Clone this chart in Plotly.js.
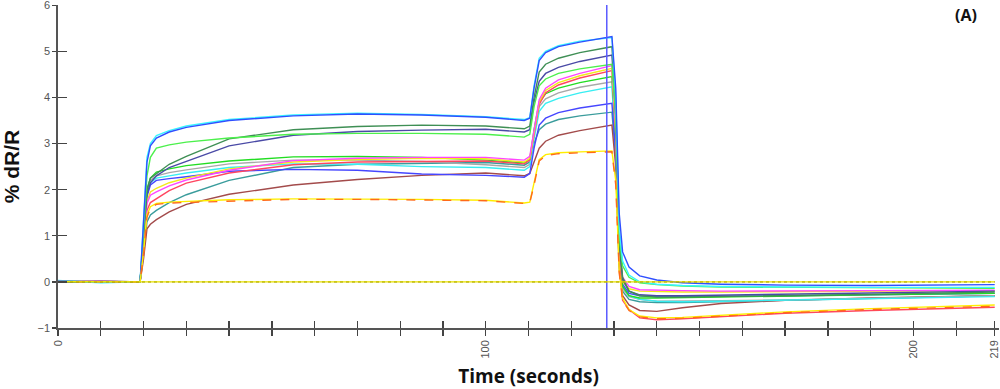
<!DOCTYPE html>
<html>
<head>
<meta charset="utf-8">
<script src="https://cdn.plot.ly/plotly-3.0.1.min.js"></script>
<style>html,body{margin:0;padding:0;background:#fff;}#chart{width:1000px;height:389px;}</style>
</head>
<body>
<div id="chart"></div>
<script>
// Time (seconds)
const T = [0, 10, 19.2, 20, 20.8, 21.6, 23, 26, 30, 40, 55, 70, 85, 100, 109, 110.3, 111.3, 112.5, 114, 117, 122, 129.5, 130.4, 131.2, 132, 133.5, 136, 140, 146, 155, 170, 190, 219];

// % dR/R series
const blueTop    = [0.02, 0.0, 0.0, 1.2, 2.6, 2.95, 3.12, 3.25, 3.35, 3.5, 3.6, 3.64, 3.62, 3.57, 3.5, 3.55, 4.2, 4.8, 4.97, 5.1, 5.2, 5.32, 4.2, 1.5, 0.65, 0.32, 0.13, 0.04, -0.02, -0.05, -0.07, -0.08, -0.06];
const cyanTop    = [0.03, -0.02, 0.0, 1.3, 2.7, 3.0, 3.17, 3.28, 3.38, 3.52, 3.62, 3.66, 3.63, 3.58, 3.52, 3.56, 4.25, 4.85, 5.0, 5.12, 5.22, 5.3, 4.0, 1.2, 0.45, 0.15, 0.0, -0.05, -0.08, -0.1, -0.11, -0.12, -0.12];
const lightGreen = [0.01, 0.0, 0.0, 1.1, 2.3, 2.7, 2.9, 2.97, 3.03, 3.12, 3.2, 3.22, 3.22, 3.2, 3.14, 3.2, 3.8, 4.25, 4.4, 4.52, 4.62, 4.72, 3.6, 1.0, 0.35, 0.1, -0.02, -0.06, -0.09, -0.11, -0.12, -0.13, -0.14];
const darkGreen  = [0.0, 0.01, 0.0, 1.0, 2.0, 2.25, 2.35, 2.55, 2.72, 3.1, 3.3, 3.37, 3.4, 3.38, 3.32, 3.38, 4.0, 4.55, 4.72, 4.85, 4.97, 5.1, 3.8, 0.9, 0.1, -0.2, -0.3, -0.33, -0.33, -0.32, -0.3, -0.27, -0.22];
const slateBlue  = [-0.01, 0.0, 0.0, 1.0, 1.9, 2.15, 2.3, 2.48, 2.61, 2.95, 3.18, 3.26, 3.29, 3.31, 3.25, 3.3, 3.9, 4.35, 4.52, 4.65, 4.78, 4.92, 3.6, 0.8, 0.05, -0.2, -0.28, -0.3, -0.3, -0.29, -0.27, -0.24, -0.2];
const green      = [0.0, 0.02, 0.0, 1.0, 2.0, 2.25, 2.38, 2.45, 2.52, 2.62, 2.71, 2.72, 2.7, 2.64, 2.58, 2.65, 3.3, 3.9, 4.08, 4.2, 4.32, 4.45, 3.2, 0.6, -0.1, -0.3, -0.35, -0.35, -0.34, -0.33, -0.31, -0.28, -0.25];
const grey       = [0.0, -0.01, 0.0, 1.0, 1.95, 2.2, 2.3, 2.37, 2.43, 2.56, 2.64, 2.64, 2.61, 2.54, 2.48, 2.55, 3.2, 3.8, 3.97, 4.1, 4.22, 4.34, 3.1, 0.5, -0.15, -0.32, -0.38, -0.42, -0.42, -0.41, -0.39, -0.35, -0.3];
const cyanLight  = [0.02, 0.0, 0.0, 0.9, 1.9, 2.15, 2.25, 2.3, 2.36, 2.48, 2.56, 2.55, 2.5, 2.48, 2.42, 2.5, 3.1, 3.7, 3.87, 3.98, 4.1, 4.23, 2.9, 0.5, -0.1, -0.3, -0.38, -0.42, -0.43, -0.42, -0.4, -0.36, -0.32];
const blueLow    = [0.0, 0.0, 0.0, 0.9, 1.85, 2.1, 2.2, 2.24, 2.28, 2.4, 2.44, 2.42, 2.34, 2.31, 2.27, 2.35, 2.9, 3.4, 3.55, 3.67, 3.77, 3.87, 2.8, 0.5, -0.05, -0.25, -0.3, -0.32, -0.32, -0.31, -0.3, -0.28, -0.25];
const magenta    = [0.01, 0.02, 0.0, 0.8, 1.7, 1.88, 1.95, 2.08, 2.21, 2.42, 2.63, 2.68, 2.7, 2.7, 2.64, 2.72, 3.3, 3.95, 4.2, 4.38, 4.52, 4.69, 3.4, 0.8, 0.1, -0.1, -0.17, -0.18, -0.19, -0.2, -0.2, -0.19, -0.18];
const yellowUp   = [0.0, 0.0, 0.0, 0.85, 1.75, 1.95, 2.03, 2.15, 2.25, 2.45, 2.6, 2.65, 2.68, 2.67, 2.6, 2.68, 3.25, 3.9, 4.15, 4.32, 4.47, 4.63, 3.3, 0.7, 0.0, -0.15, -0.2, -0.21, -0.22, -0.22, -0.21, -0.2, -0.19];
const red        = [0.0, 0.01, 0.0, 0.7, 1.55, 1.72, 1.8, 1.98, 2.14, 2.36, 2.54, 2.6, 2.61, 2.62, 2.56, 2.64, 3.2, 3.85, 4.1, 4.27, 4.42, 4.58, 3.2, 0.5, -0.4, -0.6, -0.78, -0.82, -0.8, -0.75, -0.68, -0.62, -0.55];
const teal       = [0.0, -0.01, 0.0, 0.6, 1.3, 1.45, 1.55, 1.72, 1.89, 2.2, 2.48, 2.55, 2.57, 2.59, 2.53, 2.6, 3.0, 3.3, 3.42, 3.52, 3.6, 3.68, 2.7, 0.4, -0.2, -0.38, -0.43, -0.45, -0.45, -0.43, -0.4, -0.35, -0.3];
const brown      = [0.0, 0.0, 0.0, 0.5, 1.15, 1.25, 1.35, 1.52, 1.68, 1.9, 2.1, 2.22, 2.31, 2.36, 2.3, 2.35, 2.6, 2.9, 3.05, 3.18, 3.28, 3.4, 2.5, 0.3, -0.3, -0.5, -0.62, -0.64, -0.56, -0.47, -0.4, -0.35, -0.3];
const yellowLow  = [0.01, 0.0, 0.0, 0.65, 1.45, 1.63, 1.7, 1.73, 1.74, 1.78, 1.8, 1.8, 1.79, 1.77, 1.71, 1.73, 2.15, 2.65, 2.76, 2.8, 2.82, 2.84, 2.2, 0.25, -0.35, -0.6, -0.74, -0.78, -0.77, -0.72, -0.65, -0.58, -0.5];
const orangeLow  = [0.0, 0.0, 0.0, 0.6, 1.4, 1.6, 1.68, 1.71, 1.72, 1.76, 1.79, 1.79, 1.78, 1.76, 1.7, 1.72, 2.1, 2.62, 2.74, 2.78, 2.8, 2.82, 2.1, 0.2, -0.4, -0.62, -0.76, -0.8, -0.79, -0.74, -0.67, -0.6, -0.53];

// reference lines
const baseX = [0, 219];
const baseY = [0, 0];
const cursorTime = 128.3;
const yRange = [-1, 6.004];

// ticks
const xTickVals = [0,10,20,30,40,50,60,70,80,90,100,110,120,130,140,150,160,170,180,190,200,210,219];
const xTickText = ["0","","","","","","","","","","100","","","","","","","","","","200","","219"];
const yTickVals = [-1,0,1,2,3,4,5,6];

const series = [
  {y: teal, c: "#3a9c9c"},
  {y: brown, c: "#a34b4b"},
  {y: grey, c: "#a8a8a8"},
  {y: cyanLight, c: "#38eef2"},
  {y: blueLow, c: "#4646ff"},
  {y: green, c: "#22dd22"},
  {y: red, c: "#ff4660"},
  {y: yellowUp, c: "#f2ea1a"},
  {y: magenta, c: "#ff46ff"},
  {y: slateBlue, c: "#4a4aa6"},
  {y: darkGreen, c: "#3f8f55"},
  {y: lightGreen, c: "#4cf04c"},
  {y: cyanTop, c: "#38f4ff"},
  {y: blueTop, c: "#2f4fff"},
  {y: yellowLow, c: "#ffee00"},
  {y: orangeLow, c: "#ff6a1a", dash: "dash"}
];

const traces = series.map(s => ({
  x: T, y: s.y, type: "scatter", mode: "lines",
  line: {color: s.c, width: 1.4, dash: s.dash || "solid"},
  hoverinfo: "skip"
}));

traces.unshift({x: baseX, y: baseY, xaxis: "x2", yaxis: "y2", type: "scatter", mode: "lines",
  line: {color: "#e8e000", width: 1.2}, hoverinfo: "skip"});
traces.unshift({x: baseX, y: baseY, xaxis: "x2", yaxis: "y2", type: "scatter", mode: "lines",
  line: {color: "#606000", width: 1.2, dash: "dot"}, hoverinfo: "skip"});
traces.push({x: [cursorTime, cursorTime], y: yRange, type: "scatter", mode: "lines",
  line: {color: "#5a5aff", width: 1.5}, hoverinfo: "skip"});

const tickFont = {family: "Liberation Sans, Arial, sans-serif", size: 11, color: "#555"};

const layout = {
  width: 1000, height: 389,
  margin: {l: 58, r: 1, t: 5, b: 61, pad: 0},
  paper_bgcolor: "#fff", plot_bgcolor: "#fff",
  showlegend: false,
  xaxis: {
    range: [0, 220], tickmode: "array", tickvals: xTickVals, ticktext: xTickText,
    tickangle: -90, ticks: "outside", ticklen: 6, tickwidth: 1.3, tickcolor: "#444",
    showline: true, linecolor: "#555", linewidth: 1.8, showgrid: false, zeroline: false,
    tickfont: tickFont, automargin: false, ticklabeloverflow: "allow",
    title: {text: "Time (seconds)", font: {family: "Open Sans, sans-serif", size: 19, color: "#111", weight: "bold"}, standoff: 12}
  },
  yaxis: {
    range: yRange, tickmode: "array", tickvals: yTickVals,
    ticks: "outside", ticklen: 4, tickwidth: 1.3, tickcolor: "#444",
    showline: true, linecolor: "#555", linewidth: 1.8, showgrid: false, zeroline: false,
    tickfont: tickFont, automargin: false, ticklabeloverflow: "allow",
    title: {text: "% dR/R", font: {family: "Liberation Sans, Arial, sans-serif", size: 21, color: "#111", weight: "bold"}, standoff: 14}
  },
  xaxis2: {
    overlaying: "x", anchor: "y2", range: [0, 220], tickmode: "array", tickvals: xTickVals,
    ticks: "inside", ticklen: 7, tickwidth: 1.3, tickcolor: "#444", side: "bottom",
    showticklabels: false, showline: false, showgrid: false, zeroline: false
  },
  yaxis2: {
    overlaying: "y", anchor: "x2", range: yRange, tickmode: "array", tickvals: yTickVals,
    ticks: "inside", ticklen: 9, tickwidth: 1.3, tickcolor: "#444", side: "left",
    showticklabels: false, showline: false, showgrid: false, zeroline: false
  },
  annotations: [{
    text: "(A)", xref: "paper", yref: "paper", x: 0.965, y: 0.97, xanchor: "center", yanchor: "middle",
    showarrow: false, font: {family: "Open Sans, sans-serif", size: 16, color: "#111", weight: "bold"}
  }]
};

Plotly.newPlot("chart", traces, layout, {displayModeBar: false, staticPlot: true});
</script>
</body>
</html>
